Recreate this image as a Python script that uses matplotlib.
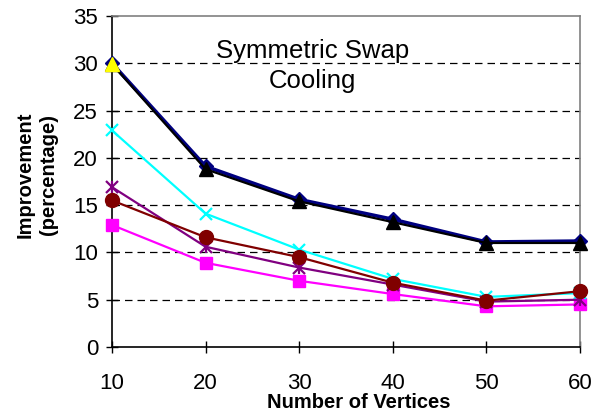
import matplotlib
matplotlib.use("Agg")
import matplotlib.pyplot as plt

plt.rcParams['font.family'] = ['Liberation Sans', 'DejaVu Sans']

vertices = [10, 20, 30, 40, 50, 60]
navy_diamond = [30.0, 19.1, 15.6, 13.5, 11.1, 11.2]
magenta_square = [12.9, 8.9, 7.0, 5.6, 4.3, 4.5]
black_triangle = [29.9, 18.8, 15.4, 13.2, 11.0, 11.0]
cyan_x = [22.9, 14.1, 10.3, 7.2, 5.3, 5.7]
purple_star = [16.9, 10.6, 8.4, 6.6, 4.8, 5.0]
maroon_circle = [15.5, 11.6, 9.5, 6.8, 4.9, 5.9]

yticks = [0, 5, 10, 15, 20, 25, 30, 35]
title_text = "Symmetric Swap\nCooling"
xlabel = "Number of Vertices"
ylabel = "Improvement\n(percentage)"

fig = plt.figure(figsize=(6.04, 4.13), dpi=100)
ax = fig.add_axes([0.1854, 0.1598, 0.9603 - 0.1854, 0.9613 - 0.1598])

lw = 1.6
ax.plot(vertices, navy_diamond, color='#000080', lw=lw + 1, marker='D', ms=7,
        mfc='#000080', mec='#000080', zorder=3)
ax.plot(vertices, magenta_square, color='#FF00FF', lw=lw, marker='s', ms=8,
        mfc='#FF00FF', mec='#FF00FF', zorder=4)
ax.plot(vertices, black_triangle, color='black', lw=lw, marker='^', ms=10.5,
        mfc='black', mec='black', zorder=5)
ax.plot(vertices[:1], black_triangle[:1], ls='none', marker='^', ms=10.5,
        mfc='#FFFF00', mec='#FFFF00', zorder=6)
ax.plot(vertices, cyan_x, color='#00FFFF', lw=lw, marker='x', ms=9, mew=1.6,
        zorder=7)
ax.plot(vertices, purple_star, color='#800080', lw=lw, marker='x', ms=9, mew=1.6,
        zorder=8)
ax.plot(vertices, purple_star, ls='none', color='#800080', marker='|', ms=9, mew=1.6,
        zorder=8)
ax.plot(vertices, maroon_circle, color='#800000', lw=lw, marker='o', ms=10,
        mfc='#800000', mec='#800000', zorder=9)

ax.set_xlim(10, 60)
ax.set_ylim(0, 35)
ax.set_xticks(vertices)
ax.set_yticks(yticks)
ax.tick_params(direction='inout', length=8, width=1, labelsize=16, colors='black')
ax.tick_params(axis='x', pad=15)
ax.tick_params(axis='y', pad=6)
for y in yticks[1:-1]:
    ax.axhline(y, color='black', lw=0.9, ls=(0, (6, 4)), zorder=1)

for s in ['left', 'bottom']:
    ax.spines[s].set_color('black')
    ax.spines[s].set_linewidth(1.2)
for s in ['top', 'right']:
    ax.spines[s].set_color('#808080')
    ax.spines[s].set_linewidth(1.2)

ax.set_xlabel(xlabel, fontsize=14.5, fontweight='bold')
ax.xaxis.set_label_coords(0.527, -0.138)
ax.set_ylabel(ylabel, fontsize=14.5, fontweight='bold', linespacing=1.3)
ax.yaxis.set_label_coords(-0.115, 0.52)
ax.text(31.4, 29.7, title_text, ha='center', va='center', fontsize=18.5,
        linespacing=1.3)
for line in ax.lines:
    line.set_clip_on(False)

fig.savefig('out.png', dpi=100)
